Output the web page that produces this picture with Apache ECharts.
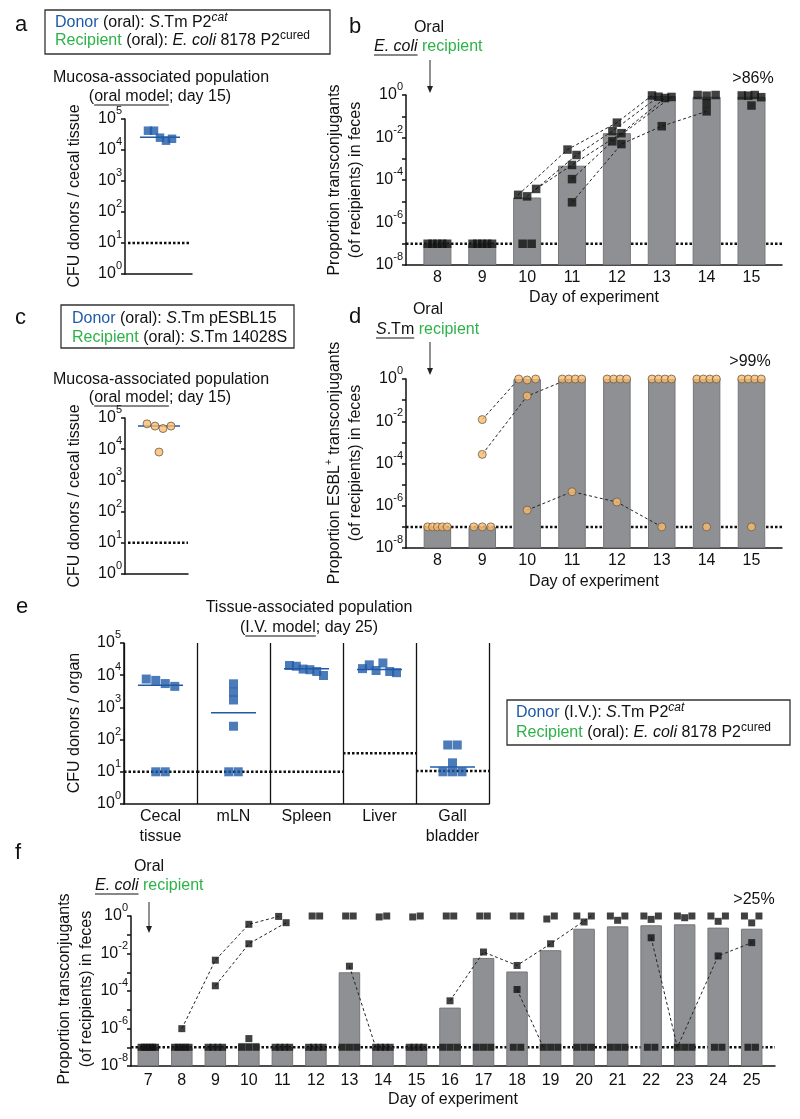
<!DOCTYPE html>
<html><head><meta charset="utf-8">
<script src="https://cdn.jsdelivr.net/npm/echarts@6/dist/echarts.min.js"></script>
<style>html,body{margin:0;padding:0;background:#fff}#c{width:800px;height:1119px}</style>
</head><body><div id="c"></div>
<script>
// ================= DATA =================
// Panel a: CFU donors / cecal tissue (oral model, day 15)
const aValues = [4.2e4, 4.2e4, 2.5e4, 2.0e4, 2.3e4];
const aMedian = 2.6e4;
const aLOD = 10;
// Panel c
const cValues = [6.5e4, 5.5e4, 4.6e4, 5.5e4, 8.1e3];
const cMedian = 5.5e4;
const cLOD = 10;
// Panel b: proportion transconjugants, per mouse, days 8..15
const bDays = [8, 9, 10, 11, 12, 13, 14, 15];
const bBars = [1e-7, 1e-7, 1.5e-5, 4.7e-4, 1.6e-2, 0.89, 0.83, 0.83];
const bMice = [
  [1e-7, 1e-7, 2.0e-5, 2.7e-3, 5.0e-2, 0.95, 1.0, 0.95],
  [1e-7, 1e-7, 1.7e-5, 1.5e-3, 2.0e-2, 0.83, 0.93, 0.93],
  [1e-7, 1e-7, 3.8e-5, 5.1e-4, 1.6e-2, 0.72, 1.0, 1.0],
  [1e-7, 1e-7, 1e-7, 1.1e-4, 6.6e-3, 0.81, 0.41, 0.79],
  [1e-7, 1e-7, 1e-7, 8.9e-6, 4.9e-3, 3.4e-2, 0.17, 0.32]
];
const bLinks = [[[10, 13]], [[10, 13]], [[10, 13]], [[11, 13]], [[11, 14]]];
const bLOD = 1e-7;
// Panel d
const dDays = [8, 9, 10, 11, 12, 13, 14, 15];
const dBars = [1e-7, 1e-7, 1, 1, 1, 1, 1, 1];
const dMice = [
  [1e-7, 1.2e-2, 1.0, 1.0, 1.0, 1.0, 1.0, 1.0],
  [1e-7, 2.7e-4, 0.155, 1.0, 1.0, 1.0, 1.0, 1.0],
  [1e-7, 1e-7, 6.2e-7, 4.6e-6, 1.5e-6, 1e-7, 1e-7, 1e-7],
  [1e-7, 1e-7, 0.9, 1.0, 1.0, 1.0, 1.0, 1.0],
  [1e-7, 1e-7, 1.0, 1.0, 1.0, 1.0, 1.0, 1.0]
];
const dLinks = [[[9, 10]], [[9, 11]], [[10, 13]], [], []];
const dLOD = 1e-7;
// Panel e: CFU donors / organ (I.V. model, day 25)
const eOrgans = ['Cecal\ntissue', 'mLN', 'Spleen', 'Liver', 'Gall\nbladder'];
const eValues = [
  [7.6e3, 6.9e3, 5.5e3, 4.5e3, 10, 10],
  [5.4e3, 3.0e3, 1.7e3, 260, 10, 10],
  [2.0e4, 1.9e4, 1.55e4, 1.48e4, 1.3e4, 9.8e3],
  [1.6e4, 2.1e4, 1.4e4, 2.4e4, 1.3e4, 1.2e4],
  [68, 68, 19, 10, 10, 10]
];
const eMedians = [4.9e3, 680, 1.6e4, 1.5e4, 14];
const eLOD = [10, 10, 10, 38, 10.5];
// Panel f: days 7..25
const fDays = [7, 8, 9, 10, 11, 12, 13, 14, 15, 16, 17, 18, 19, 20, 21, 22, 23, 24, 25];
const fBars = [1e-7, 1e-7, 1e-7, 1.7e-7, 1e-7, 1e-7, 1.0e-3, 1e-7, 1e-7, 1.3e-5, 5.8e-3, 1.1e-3, 1.5e-2, 0.21, 0.28, 0.32, 0.36, 0.24, 0.21];
const fMice = [
  [1e-7, 9.8e-7, 4.4e-3, 0.36, 0.95, 1, 1, 0.89, 0.89, 1, 1, 1, 0.69, 1, 1, 1, 1, 1, 1],
  [1e-7, 1e-7, 1.9e-4, 3.3e-2, 0.44, 1, 1, 1, 1, 1, 1, 1, 1, 0.48, 0.59, 0.66, 0.81, 0.52, 0.43],
  [1e-7, 1e-7, 1e-7, 2.9e-7, 1e-7, 1e-7, 2.1e-3, 1e-7, 1e-7, 3.0e-5, 1.2e-2, 2.3e-3, 3.3e-2, 1, 1, 1, 1, 1, 1],
  [1e-7, 1e-7, 1e-7, 1e-7, 1e-7, 1e-7, 1e-7, 1e-7, 1e-7, 1e-7, 1e-7, 1.2e-4, 1e-7, 1e-7, 1e-7, 6.9e-2, 1e-7, 7.4e-3, 3.8e-2],
  [1e-7, 1e-7, 1e-7, 1e-7, 1e-7, 1e-7, 1e-7, 1e-7, 1e-7, 1e-7, 1e-7, 1e-7, 1e-7, 1e-7, 1e-7, 1e-7, 1e-7, 1e-7, 1e-7],
  [1e-7, 1e-7, 1e-7, 1e-7, 1e-7, 1e-7, 1e-7, 1e-7, 1e-7, 1e-7, 1e-7, 1e-7, 1e-7, 1e-7, 1e-7, 1e-7, 1e-7, 1e-7, 1e-7]
];
const fLinks = [[[8, 11]], [[9, 11]], [[13, 14], [16, 20]], [[18, 19], [22, 25]], [], []];
const fLOD = 1e-7;

// ================= RENDER =================
const FONT = '"Liberation Sans", Arial, Helvetica, sans-serif';
const BLUE = '#1f5aa8', GREEN = '#2db24a', INK = '#111';
const lg = v => Math.log10(v);
const chart = echarts.init(document.getElementById('c'), null, {renderer: 'canvas', width: 800, height: 1119});

const grids = [], xAxes = [], yAxes = [], series = [], gfx = [];
const yRich = {
  b: {fontSize: 16, fontFamily: FONT, color: INK, lineHeight: 27},
  e: {fontSize: 11, fontFamily: FONT, color: INK, lineHeight: 11, verticalAlign: 'top'}
};
function addGrid(g, xa, ya) {
  grids.push(Object.assign({outerBoundsMode: 'none', containLabel: false}, g));
  const gi = grids.length - 1;
  xAxes.push(Object.assign({gridIndex: gi, type: 'value',
    axisLine: {show: true, onZero: false, lineStyle: {color: INK, width: 1.5}},
    axisTick: {show: false}, splitLine: {show: false}}, xa));
  yAxes.push(Object.assign({gridIndex: gi, type: 'value', min: 0, interval: 1,
    axisLine: {show: true, onZero: false, lineStyle: {color: INK, width: 1.5}},
    axisTick: {show: true, length: 4, lineStyle: {color: INK, width: 1.5}},
    splitLine: {show: false}}, ya));
  return gi;
}
function jitter(points, pxPerDec, size, maxSpan) {
  const s = points.slice().sort((p, q) => q.ly - p.ly);
  const rows = []; let cur = null, prev = null;
  for (const p of s) {
    if (cur && (prev.ly - p.ly) * pxPerDec < 7) cur.push(p); else { cur = [p]; rows.push(cur); }
    prev = p;
  }
  for (const r of rows) {
    r.sort((a, b) => a.k - b.k);
    const n = r.length;
    const sp = n > 1 ? Math.min(size + 0.5, maxSpan / (n - 1)) : 0;
    r.forEach((p, i) => { p.dx = (i - (n - 1) / 2) * sp; });
  }
}
function lodLine(gi, x1, x2, y) {
  series.push({type: 'line', xAxisIndex: gi, yAxisIndex: gi, data: [[x1, y], [x2, y]], symbol: 'none',
    lineStyle: {color: INK, width: 2.5, type: [2.5, 2]}, z: 1, silent: true, clip: false, animation: false});
}
function timeCourse(gi, days, bars, mice, links, lod, cfg) {
  lodLine(gi, cfg.xmin, cfg.xmax, lg(lod) + 8);
  series.push({type: 'bar', xAxisIndex: gi, yAxisIndex: gi, data: days.map((d, i) => [d, lg(bars[i]) + 8]),
    barWidth: cfg.barW, itemStyle: {color: '#8e9093', borderColor: '#75777a', borderWidth: 1}, z: 2, silent: true, animation: false});
  const pos = mice.map(() => []);
  days.forEach((d, j) => {
    const pts = mice.map((m, k) => ({k, ly: lg(m[j])}));
    jitter(pts, cfg.ppd, cfg.size, cfg.barW - cfg.size);
    pts.forEach(p => { pos[p.k][j] = [d + p.dx / cfg.ppx, p.ly + 8]; });
  });
  links.forEach((ranges, k) => ranges.forEach(([s, e]) => {
    const data = [];
    days.forEach((d, j) => { if (d >= s && d <= e) data.push(pos[k][j]); });
    series.push({type: 'line', xAxisIndex: gi, yAxisIndex: gi, data, symbol: 'none',
      lineStyle: {color: '#222', width: 1, type: [3, 2.5]}, z: 3, silent: true, clip: false, animation: false});
  }));
  const all = []; pos.forEach(a => a.forEach(p => all.push(p)));
  series.push({type: 'scatter', xAxisIndex: gi, yAxisIndex: gi, data: all, symbol: cfg.sym, symbolSize: cfg.size,
    itemStyle: {color: cfg.color, borderColor: cfg.border || cfg.color, borderWidth: cfg.border ? 1 : 0},
    z: 4, silent: true, clip: false, animation: false});
}
const expFmt8 = v => (v % 2 === 0 ? '{b|10}{e|' + (v - 8) + '}' : '');
const expFmt = v => '{b|10}{e|' + v + '}';
const yLab = fmt => ({margin: 3, formatter: fmt, rich: yRich});
const xDayAxis = (min, max, days, margin) => ({min, max,
  axisLabel: {customValues: days, formatter: v => String(v), fontSize: 16, fontFamily: FONT, color: INK, margin}});

// ---- Panel a ----
let gi = addGrid({left: 125, top: 119, width: 67, height: 155},
  {min: -35, max: 32, axisLabel: {show: false}}, {max: 5, axisLabel: yLab(expFmt)});
lodLine(gi, -32, 30, lg(aLOD));
series.push({type: 'line', xAxisIndex: gi, yAxisIndex: gi, data: [[-20, lg(aMedian)], [20, lg(aMedian)]], symbol: 'none',
  lineStyle: {color: BLUE, width: 1.5}, z: 3, silent: true, clip: false, animation: false});
(function () {
  const pts = aValues.map((v, k) => ({k, ly: lg(v)}));
  jitter(pts, 31, 8.5, 24);
  series.push({type: 'scatter', xAxisIndex: gi, yAxisIndex: gi, data: pts.map(p => [p.dx, p.ly]), symbol: 'rect',
    symbolSize: 8.5, itemStyle: {color: BLUE}, z: 4, silent: true, clip: false, animation: false});
})();

// ---- Panel c ----
gi = addGrid({left: 125, top: 418, width: 63, height: 156},
  {min: -34, max: 29, axisLabel: {show: false}}, {max: 5, axisLabel: yLab(expFmt)});
lodLine(gi, -31, 29, lg(cLOD));
series.push({type: 'line', xAxisIndex: gi, yAxisIndex: gi, data: [[-21, lg(cMedian)], [21, lg(cMedian)]], symbol: 'none',
  lineStyle: {color: BLUE, width: 1.5}, z: 3, silent: true, clip: false, animation: false});
(function () {
  const pts = cValues.map((v, k) => ({k, ly: lg(v)}));
  jitter(pts, 31.2, 8, 24);
  series.push({type: 'scatter', xAxisIndex: gi, yAxisIndex: gi, data: pts.map(p => [p.dx, p.ly]), symbol: 'circle',
    symbolSize: 8, itemStyle: {color: '#f9bb6e', borderColor: '#6e5c48', borderWidth: 1}, z: 4, silent: true, clip: false, animation: false});
})();

// ---- Panel b ----
gi = addGrid({left: 406, top: 95, width: 376, height: 170}, xDayAxis(7.3, 15.68, bDays, 5), {max: 8, axisLabel: yLab(expFmt8)});
timeCourse(gi, bDays, bBars, bMice, bLinks, bLOD,
  {xmin: 7.3, xmax: 15.68, ppx: 376 / 8.38, ppd: 170 / 8, size: 8.5, barW: 28, sym: 'rect', color: INK});

// ---- Panel d ----
gi = addGrid({left: 406, top: 379, width: 376, height: 169}, xDayAxis(7.3, 15.68, dDays, 5), {max: 8, axisLabel: yLab(expFmt8)});
timeCourse(gi, dDays, dBars, dMice, dLinks, dLOD,
  {xmin: 7.3, xmax: 15.68, ppx: 376 / 8.38, ppd: 169 / 8, size: 8, barW: 27.5, sym: 'circle', color: '#f9bb6e', border: '#6e5c48'});

// ---- Panel e ----
gi = addGrid({left: 124, top: 643, width: 365, height: 161},
  {min: 0, max: 5, interval: 1,
   splitLine: {show: true, lineStyle: {color: INK, width: 1.3}},
   axisLabel: {customValues: [0.5, 1.5, 2.5, 3.5, 4.5], formatter: v => eOrgans[Math.floor(v)],
     fontSize: 16, fontFamily: FONT, color: INK, lineHeight: 20, margin: 3}},
  {max: 5, axisLabel: yLab(expFmt)});
eLOD.forEach((v, i) => lodLine(gi, i, i + 1, lg(v)));
(function () {
  const data = [];
  eValues.forEach((vals, i) => {
    const pts = vals.map((v, k) => ({k, ly: lg(v)}));
    jitter(pts, 32.2, 9, 34);
    pts.forEach(p => data.push([i + 0.5 + p.dx / 73, p.ly]));
    series.push({type: 'line', xAxisIndex: gi, yAxisIndex: gi,
      data: [[i + 0.5 - 22.5 / 73, lg(eMedians[i])], [i + 0.5 + 22.5 / 73, lg(eMedians[i])]], symbol: 'none',
      lineStyle: {color: BLUE, width: 1.5}, z: 3, silent: true, clip: false, animation: false});
  });
  series.push({type: 'scatter', xAxisIndex: gi, yAxisIndex: gi, data, symbol: 'rect', symbolSize: 9,
    itemStyle: {color: BLUE}, z: 4, silent: true, clip: false, animation: false});
})();

// ---- Panel f ----
gi = addGrid({left: 131, top: 916, width: 644, height: 150}, xDayAxis(6.484, 25.695, fDays, 7), {max: 8, axisLabel: yLab(expFmt8)});
timeCourse(gi, fDays, fBars, fMice, fLinks, fLOD,
  {xmin: 6.484, xmax: 25.695, ppx: 644 / 19.211, ppd: 150 / 8, size: 7, barW: 21.5, sym: 'rect', color: INK});

// ================= TEXT / ANNOTATIONS =================
const mctx = document.createElement('canvas').getContext('2d');
const fnt = (size, it) => (it ? 'italic ' : '') + size + 'px ' + FONT;
function txt(x, y, text, o) {
  o = o || {};
  const st = {text, font: fnt(o.size || 16, o.it), fill: o.color || INK,
    textAlign: o.align || 'left', textVerticalAlign: 'middle', align: o.align || 'left', verticalAlign: 'middle'};
  if (o.lh) st.lineHeight = o.lh;
  if (o.rich) st.rich = o.rich;
  gfx.push({type: 'text', x, y, rotation: o.rot || 0, silent: true, z: 100, style: st});
}
function tline(x, y, segs, align) {
  const ws = segs.map(s => { mctx.font = fnt(s.size || 16, s.it); return mctx.measureText(s.t).width; });
  const tot = ws.reduce((a, b) => a + b, 0);
  let cx = align === 'center' ? x - tot / 2 : x;
  segs.forEach((s, i) => {
    txt(cx, y - (s.sup || 0), s.t, {size: s.size || 16, it: s.it, color: s.c});
    if (s.u) gfx.push({type: 'line', silent: true, z: 100, shape: {x1: cx, y1: y + 8, x2: cx + ws[i], y2: y + 8},
      style: {stroke: s.c || INK, lineWidth: 1}});
    cx += ws[i];
  });
}
function box(x, y, w, h) {
  gfx.push({type: 'rect', silent: true, z: 99, shape: {x, y, width: w, height: h}, style: {fill: 'none', stroke: '#333', lineWidth: 1.3}});
}
function arrow(x, y1, y2) {
  gfx.push({type: 'line', silent: true, z: 100, shape: {x1: x, y1, x2: x, y2: y2 - 5}, style: {stroke: '#222', lineWidth: 1}});
  gfx.push({type: 'polygon', silent: true, z: 100, shape: {points: [[x - 3, y2 - 7], [x + 3, y2 - 7], [x, y2]]}, style: {fill: '#222'}});
}
const SUP = {size: 12, sup: 5};
// letters
[['a', 15, 25], ['b', 349, 27], ['c', 15, 318], ['d', 349, 317], ['e', 16, 607], ['f', 15, 853]]
  .forEach(([t, x, y]) => txt(x, y, t, {size: 22}));
// panel a
box(45, 10, 285, 44);
tline(55, 23, [{t: 'Donor', c: BLUE}, {t: ' (oral): '}, {t: 'S', it: true}, {t: '.Tm P2'}, Object.assign({t: 'cat', it: true}, SUP)]);
tline(55, 41, [{t: 'Recipient', c: GREEN}, {t: ' (oral): '}, {t: 'E. coli', it: true}, {t: ' 8178 P2'}, Object.assign({t: 'cured'}, SUP)]);
tline(161, 78, [{t: 'Mucosa-associated population'}], 'center');
tline(160, 97, [{t: '('}, {t: 'oral model', u: true}, {t: '; day 15)'}], 'center');
txt(75, 196, 'CFU donors / cecal tissue', {rot: Math.PI / 2, align: 'center'});
// panel c
box(61, 305, 233, 43);
tline(72, 319, [{t: 'Donor', c: BLUE}, {t: ' (oral): '}, {t: 'S', it: true}, {t: '.Tm pESBL15'}]);
tline(72, 338, [{t: 'Recipient', c: GREEN}, {t: ' (oral): '}, {t: 'S', it: true}, {t: '.Tm 14028S'}]);
tline(161, 380, [{t: 'Mucosa-associated population'}], 'center');
tline(160, 398, [{t: '('}, {t: 'oral model', u: true}, {t: '; day 15)'}], 'center');
txt(75, 496, 'CFU donors / cecal tissue', {rot: Math.PI / 2, align: 'center'});
// panel b
txt(429, 28, 'Oral', {align: 'center'});
tline(374, 47, [{t: 'E. coli', it: true, u: true}, {t: ' '}, {t: 'recipient', c: GREEN}]);
arrow(430, 60, 93);
txt(753, 79, '>86%', {align: 'center'});
txt(345, 180, 'Proportion transconjugants\n(of recipients) in feces', {rot: Math.PI / 2, align: 'center', lh: 21});
txt(594, 298, 'Day of experiment', {align: 'center'});
// panel d
txt(428, 310, 'Oral', {align: 'center'});
tline(376, 330, [{t: 'S', it: true, u: true}, {t: '.Tm', u: true}, {t: ' '}, {t: 'recipient', c: GREEN}]);
arrow(430, 342, 375);
txt(750, 362, '>99%', {align: 'center'});
txt(345, 463, '{t|Proportion ESBL}{s|+}{t| transconjugants}\n{t|(of recipients) in feces}', {rot: Math.PI / 2, align: 'center',
  rich: {t: {fontSize: 16, fontFamily: FONT, color: INK, lineHeight: 21}, s: {fontSize: 10, fontFamily: FONT, color: INK, lineHeight: 10, verticalAlign: 'top'}}});
txt(594, 582, 'Day of experiment', {align: 'center'});
// panel e
tline(309, 608, [{t: 'Tissue-associated population'}], 'center');
tline(309, 628, [{t: '('}, {t: 'I.V. model', u: true}, {t: '; day 25)'}], 'center');
txt(75, 723, 'CFU donors / organ', {rot: Math.PI / 2, align: 'center'});
box(507, 700, 283, 45);
tline(516, 713, [{t: 'Donor', c: BLUE}, {t: ' (I.V.): '}, {t: 'S', it: true}, {t: '.Tm P2'}, Object.assign({t: 'cat', it: true}, SUP)]);
tline(516, 733, [{t: 'Recipient', c: GREEN}, {t: ' (oral): '}, {t: 'E. coli', it: true}, {t: ' 8178 P2'}, Object.assign({t: 'cured'}, SUP)]);
// panel f
txt(149, 867, 'Oral', {align: 'center'});
tline(95, 886, [{t: 'E. coli', it: true, u: true}, {t: ' '}, {t: 'recipient', c: GREEN}]);
arrow(149, 902, 933);
txt(754, 900, '>25%', {align: 'center'});
txt(76, 989, 'Proportion transconjugants\n(of recipients) in feces', {rot: Math.PI / 2, align: 'center', lh: 22});
txt(453, 1100, 'Day of experiment', {align: 'center'});

chart.setOption({
  animation: false,
  backgroundColor: '#fff',
  textStyle: {fontFamily: FONT},
  grid: grids, xAxis: xAxes, yAxis: yAxes, series, graphic: {elements: gfx}
});
</script>
</body></html>
